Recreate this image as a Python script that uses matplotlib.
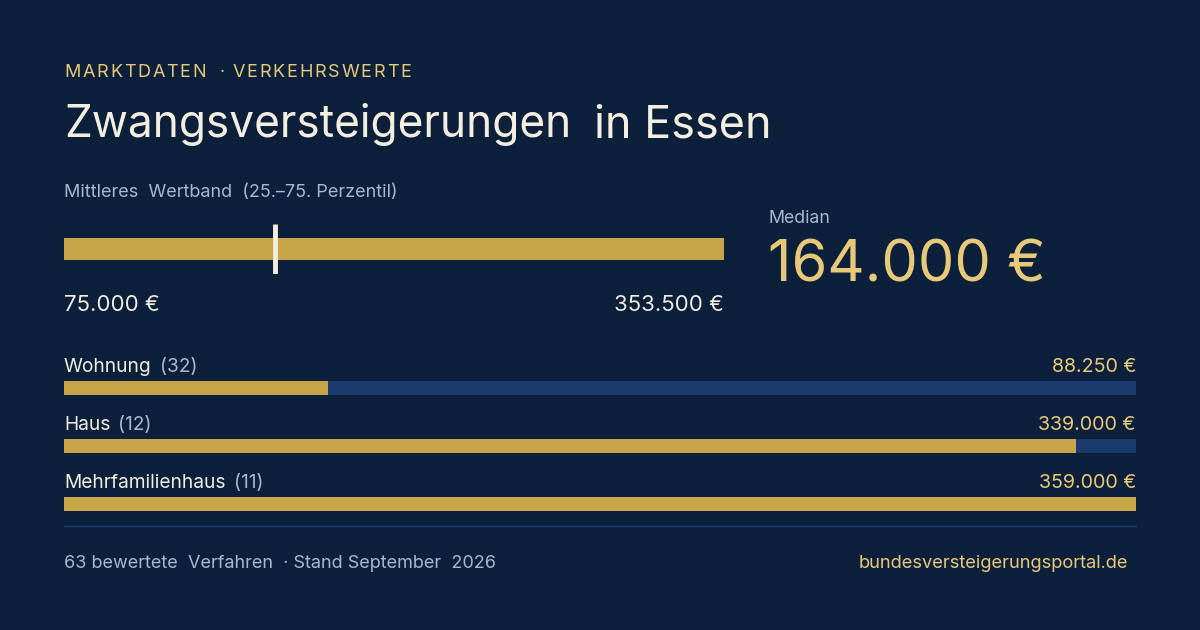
import matplotlib
matplotlib.use("Agg")
import matplotlib.pyplot as plt

# ---- data ----
band_low = 75000
band_high = 353500
median_value = 164000
categories = ["Wohnung", "Haus", "Mehrfamilienhaus"]
counts = [32, 12, 11]
medians = [88250, 339000, 359000]
value_labels = ["88.250 €", "339.000 €", "359.000 €"]
band_labels = ["75.000 €", "353.500 €"]
median_label = "164.000 €"
kicker = "MARKTDATEN  · VERKEHRSWERTE"
title_parts = ["Zwangsversteigerungen", "in Essen"]
band_caption = "Mittleres  Wertband  (25.–75. Perzentil)"
footer_left = "63 bewertete  Verfahren  · Stand September  2026"
footer_right = "bundesversteigerungsportal.de"

# ---- style ----
BG = "#0c1f3b"
GOLD = "#c9a54a"
GOLD_TXT = "#e8c97a"
CREAM = "#f3eee0"
MUTED = "#a9b8d0"
TRACK = "#1b3a6e"
FONT = ["Inter", "DejaVu Sans"]
plt.rcParams["font.family"] = FONT

W, H = 1200, 630
fig = plt.figure(figsize=(W / 100, H / 100), dpi=100, facecolor=BG)

bg = fig.add_axes([0, 0, 1, 1])
bg.set_xlim(0, W)
bg.set_ylim(H, 0)
bg.axis("off")
bg.set_facecolor(BG)


def px_axes(x0, y0, x1, y1):
    ax = fig.add_axes([x0 / W, 1 - y1 / H, (x1 - x0) / W, (y1 - y0) / H])
    ax.axis("off")
    ax.patch.set_alpha(0)
    return ax


def spaced(x, y, s, size, color, spacing):
    # draw text with letter spacing
    fig.canvas.draw()
    r = fig.canvas.get_renderer()
    for ch in s:
        t = bg.text(x, y, ch, fontsize=size, color=color, va="baseline", ha="left")
        if ch == " ":
            w = size * 100 / 72 * 0.22
        else:
            bb = t.get_window_extent(renderer=r)
            w = bb.width
        x += w + spacing


# kicker
spaced(64, 77, kicker, 13.0, GOLD_TXT, 1.8)

# title
bg.text(64, 137, title_parts[0], fontsize=31.8, color=CREAM, va="baseline", ha="left")
bg.text(594, 137, title_parts[1], fontsize=32.4, color=CREAM, va="baseline", ha="left")

# band caption
bg.text(64, 197, band_caption, fontsize=13.0, color=MUTED, va="baseline", ha="left")

# band bar
axb = px_axes(64, 224, 724, 274)
axb.set_xlim(band_low, band_high)
axb.set_ylim(0, 50)
axb.barh(25, band_high - band_low, left=band_low, height=22, color=GOLD)
axb.vlines(median_value, 0, 50, color=CREAM, linewidth=3.5)

bg.text(64, 311, band_labels[0], fontsize=16, color=CREAM, va="baseline", ha="left")
bg.text(724, 311, band_labels[1], fontsize=16, color=CREAM, va="baseline", ha="right")

# median block
bg.text(768, 223, "Median", fontsize=12.8, color=MUTED, va="baseline", ha="left")
bg.text(768, 281, median_label, fontsize=41.6, color=GOLD_TXT, va="baseline", ha="left")

# category bars
maxv = max(medians)
row_top = [381, 439, 497]
label_base = [372, 430, 488]
fig.canvas.draw()
r = fig.canvas.get_renderer()
for i, cat in enumerate(categories):
    ax = px_axes(64, row_top[i], 1136, row_top[i] + 14)
    ax.set_xlim(0, maxv)
    ax.set_ylim(0, 1)
    ax.barh(0.5, maxv, height=1.0, color=TRACK)
    ax.barh(0.5, medians[i], height=1.0, color=GOLD)
    t = bg.text(64, label_base[i], cat, fontsize=13.8, color=CREAM, va="baseline", ha="left")
    bb = t.get_window_extent(renderer=r)
    bg.text(64 + bb.width + 8, label_base[i], f"({counts[i]})", fontsize=13.8,
            color=MUTED, va="baseline", ha="left")
    bg.text(1136, label_base[i], value_labels[i], fontsize=14.2, color=GOLD_TXT,
            va="baseline", ha="right")

# separator
bg.plot([64, 1136], [526, 526], color=TRACK, linewidth=1)

# footer
bg.text(64, 568, footer_left, fontsize=13.0, color=MUTED, va="baseline", ha="left")
bg.text(1128, 568, footer_right, fontsize=13.2, color=GOLD_TXT, va="baseline", ha="right")

fig.savefig("out.png", dpi=100, facecolor=BG)
